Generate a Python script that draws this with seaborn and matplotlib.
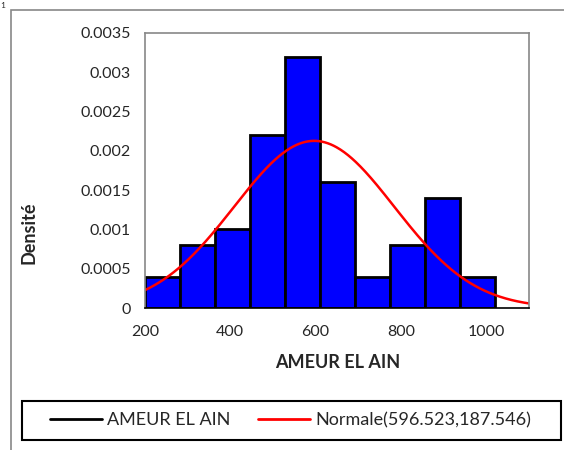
import numpy as np
import pandas as pd
import matplotlib
matplotlib.use("Agg")
import matplotlib.pyplot as plt
from matplotlib.lines import Line2D
from matplotlib.patches import Rectangle
import seaborn as sns

sns.set_style("white")
plt.rcParams['font.family'] = ['Lato', 'DejaVu Sans']

bin_edges = [200, 282, 364, 446, 528, 610, 692, 774, 856, 938, 1020]
densities = [0.0004, 0.0008, 0.0010, 0.0022, 0.0032, 0.0016, 0.0004, 0.0008, 0.0014, 0.0004]
mu, sigma = 596.523, 187.546
x_ticks = [200, 400, 600, 800, 1000]
y_ticks = [0, 0.0005, 0.001, 0.0015, 0.002, 0.0025, 0.003, 0.0035]
y_tick_labels = ["0", "0.0005", "0.001", "0.0015", "0.002", "0.0025", "0.003", "0.0035"]
series_name = "AMEUR EL AIN"
normal_name = "Normale(596.523,187.546)"

centers = [(a + b) / 2 for a, b in zip(bin_edges[:-1], bin_edges[1:])]
df = pd.DataFrame({"x": centers, "w": densities})

fig = plt.figure(figsize=(5.64, 4.5), dpi=100)
ax = fig.add_axes([145/564, 1 - 308/450, (529-145)/564, (308-33)/450])

sns.histplot(data=df, x="x", weights="w", bins=bin_edges, stat="count",
             color="#0000FF", edgecolor="black", linewidth=2, alpha=1, ax=ax)

xs = np.linspace(200, 1100, 400)
pdf = np.exp(-0.5 * ((xs - mu) / sigma) ** 2) / (sigma * np.sqrt(2 * np.pi))
sns.lineplot(x=xs, y=pdf, color="red", linewidth=1.8, ax=ax)

ax.set_xlim(200, 1100)
ax.set_ylim(0, 0.0035)
ax.set_xticks(x_ticks)
ax.set_xticklabels([str(t) for t in x_ticks])
ax.set_yticks(y_ticks)
ax.set_yticklabels(y_tick_labels)
ax.tick_params(axis="both", direction="inout", length=8, width=1, color="#888888",
               labelsize=11.5)
ax.tick_params(axis="x", pad=8)
ax.tick_params(axis="y", pad=6)
for side in ["left", "top", "right"]:
    ax.spines[side].set_color("#888888")
    ax.spines[side].set_linewidth(1.2)
ax.spines["bottom"].set_color("black")
ax.spines["bottom"].set_linewidth(1.2)
ax.set_xlabel(series_name, fontsize=13, fontweight="bold")
ax.set_ylabel("Densité", fontsize=13, fontweight="bold")
ax.xaxis.label.set_va("center")
ax.yaxis.label.set_va("center")
ax.xaxis.set_label_coords((338-145)/384, (308-362)/275)
ax.yaxis.set_label_coords((29-145)/384, (308-233)/275)

# outer chart frame
fig.patches.append(Rectangle((11/564, -0.05), 1.0, 1 - 10/450 + 0.05,
                             transform=fig.transFigure, fill=False,
                             edgecolor="#888888", linewidth=1.2))
fig.text(0.0, 1 - 6/450, "1", fontsize=6, va="center", ha="left")

# legend frame
fig.patches.append(Rectangle((22/564, 1 - 440/450), (561-22)/564, 39/450,
                             transform=fig.transFigure, fill=False,
                             edgecolor="black", linewidth=1.5))
handles = [Line2D([0], [0], color="black", linewidth=2),
           Line2D([0], [0], color="red", linewidth=2)]
leg = fig.legend(handles, [series_name, normal_name], loc="center left",
                 bbox_to_anchor=(50/564, 1 - 420/450), ncol=2, frameon=False,
                 fontsize=13, handlelength=2.88, borderpad=0, borderaxespad=0,
                 columnspacing=1.5, handletextpad=0.3)

fig.savefig("out.png", dpi=100)
